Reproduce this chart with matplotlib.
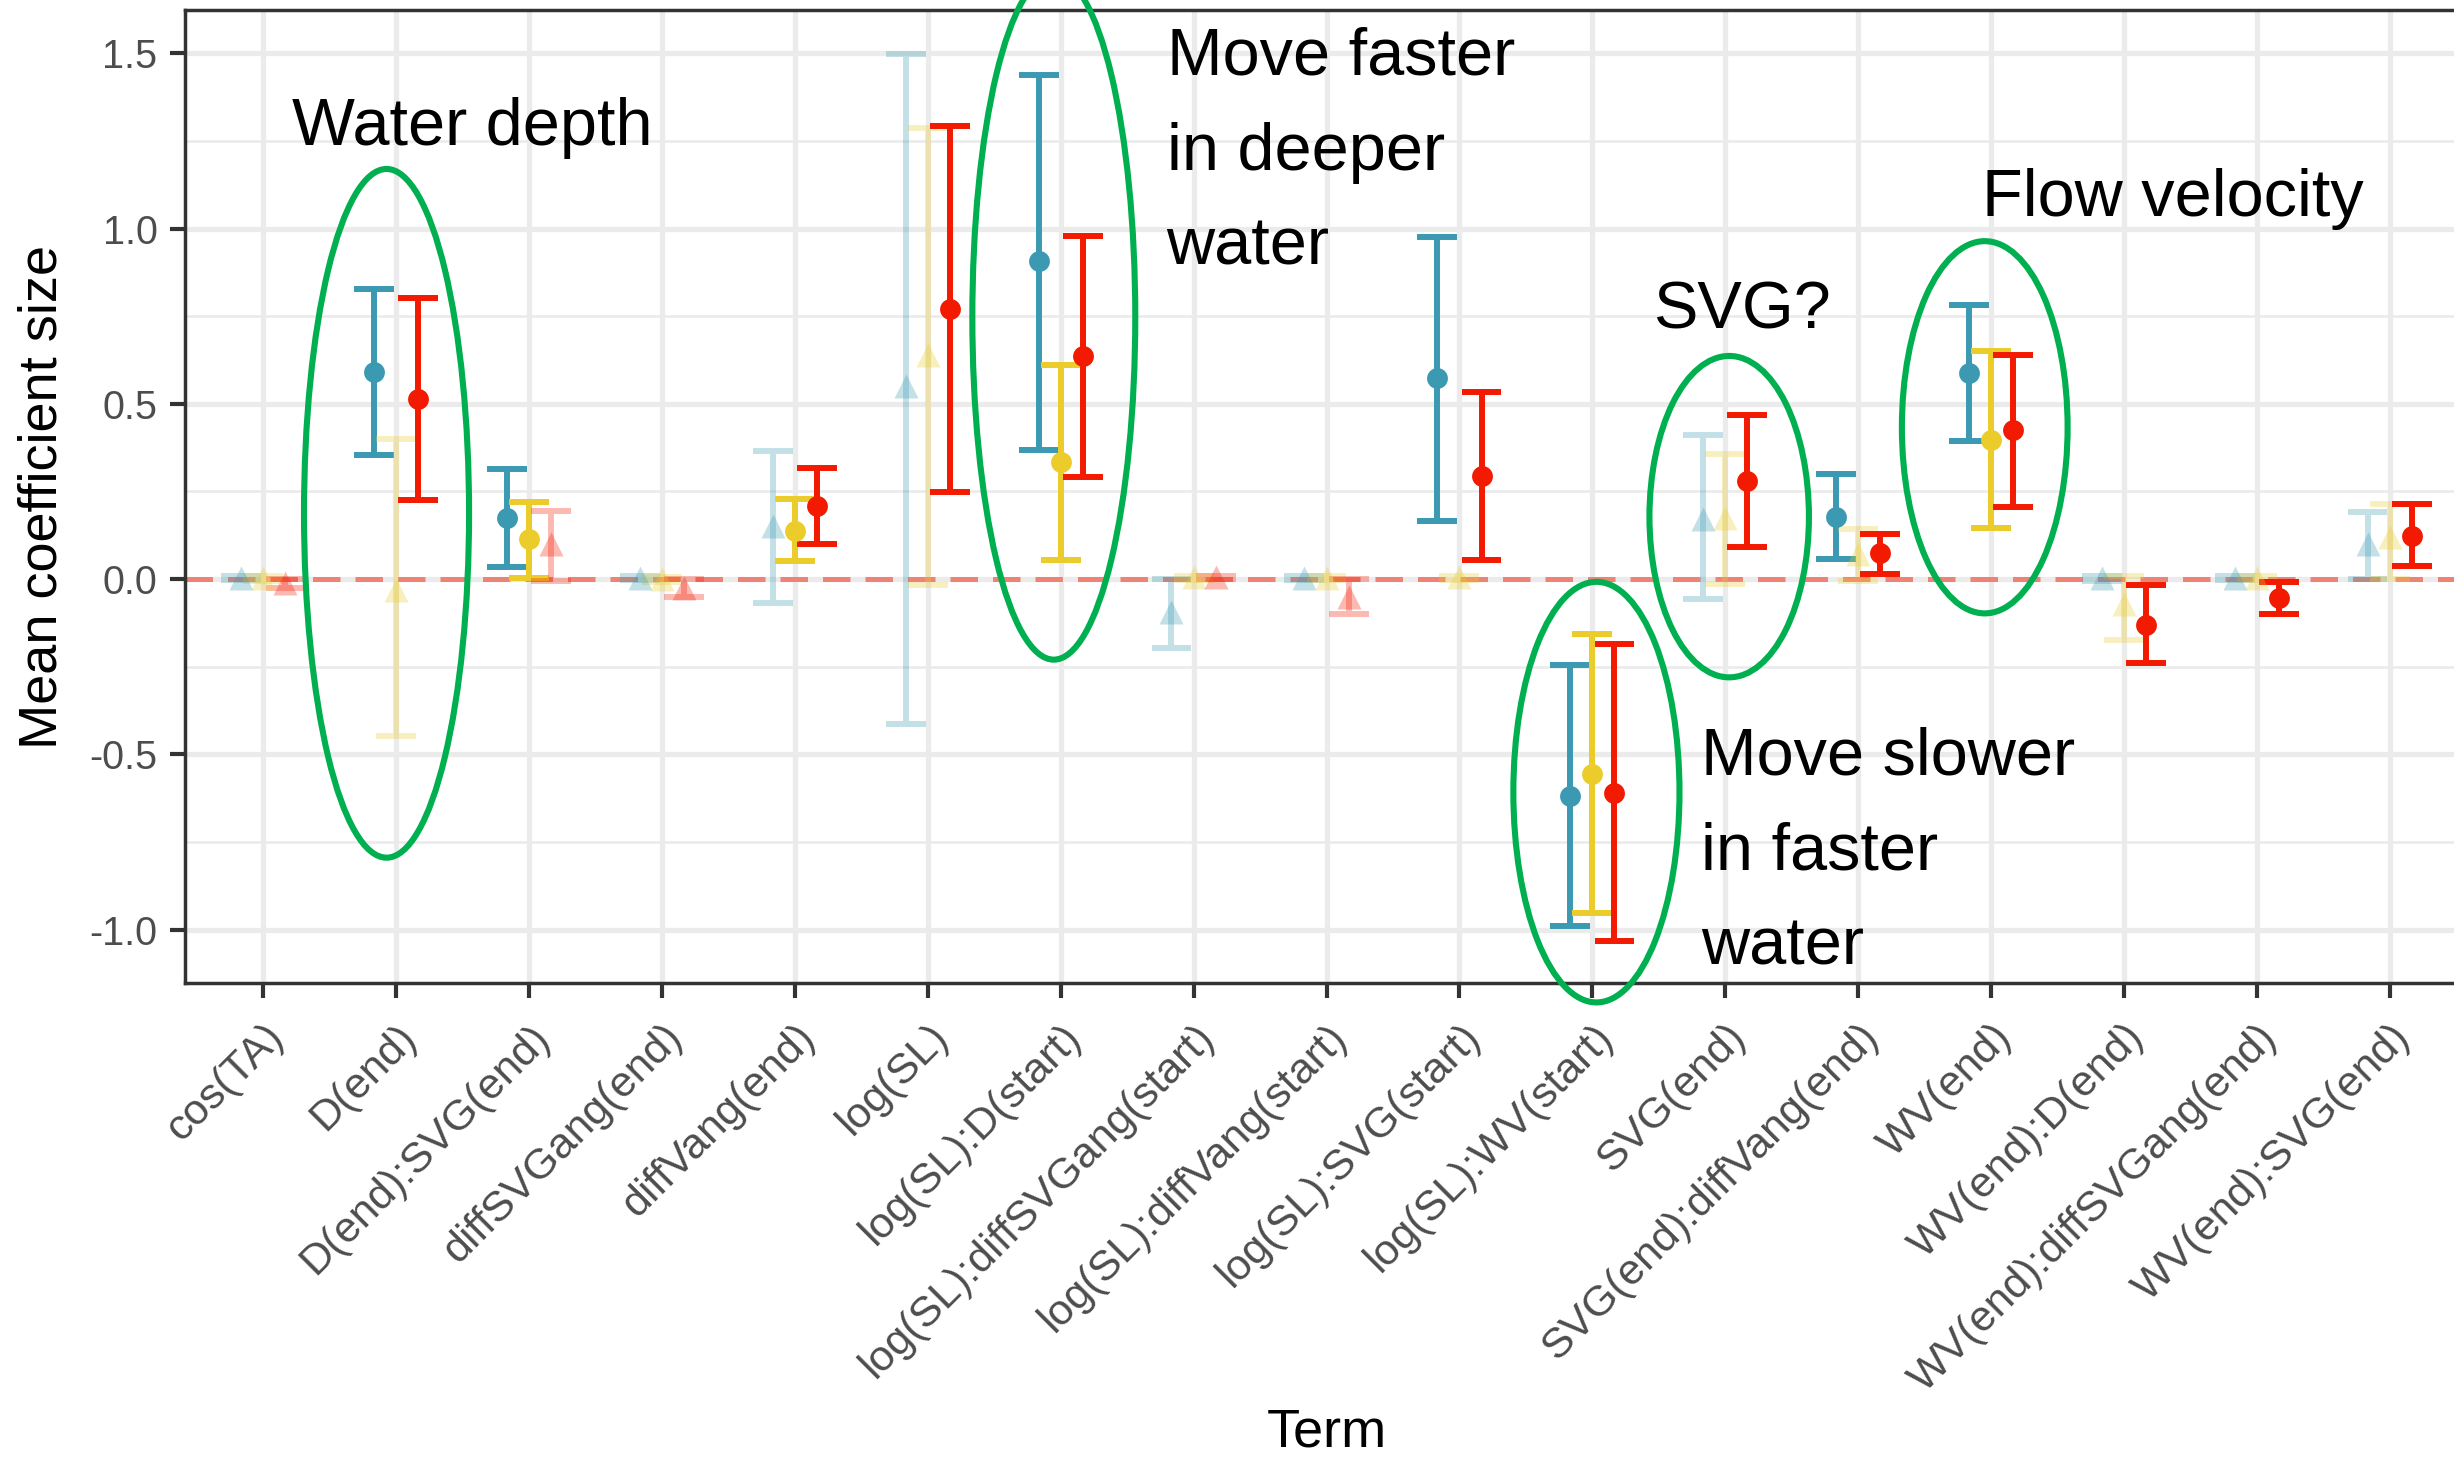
import matplotlib
matplotlib.use("Agg")
import matplotlib.pyplot as plt
from matplotlib.patches import Ellipse
from matplotlib.ticker import FormatStrFormatter, MultipleLocator
import numpy as np

plt.rcParams['font.family'] = ['Liberation Sans', 'DejaVu Sans']
plt.rcParams['axes.unicode_minus'] = False

terms = ["cos(TA)", "D(end)", "D(end):SVG(end)", "diffSVGang(end)", "diffVang(end)",
         "log(SL)", "log(SL):D(start)", "log(SL):diffSVGang(start)",
         "log(SL):diffVang(start)", "log(SL):SVG(start)", "log(SL):WV(start)",
         "SVG(end)", "SVG(end):diffVang(end)", "WV(end)", "WV(end):D(end)",
         "WV(end):diffSVGang(end)", "WV(end):SVG(end)"]

# model 1 (blue)
blue_mean = [0.003, 0.591, 0.175, 0.003, 0.150, 0.550, 0.906, -0.095, 0.002, 0.573,
             -0.619, 0.170, 0.178, 0.588, 0.002, 0.002, 0.100]
blue_lo = [-0.004, 0.355, 0.035, -0.003, -0.067, -0.413, 0.368, -0.197, -0.004, 0.167,
           -0.990, -0.058, 0.056, 0.393, -0.005, -0.004, 0.000]
blue_hi = [0.010, 0.828, 0.313, 0.010, 0.366, 1.499, 1.439, 0.000, 0.008, 0.975,
           -0.246, 0.411, 0.300, 0.782, 0.008, 0.008, 0.191]
blue_sig = [0, 1, 1, 0, 0, 0, 1, 0, 0, 1, 1, 0, 1, 1, 0, 0, 0]

# model 2 (yellow)
yellow_mean = [0.002, -0.030, 0.113, 0.000, 0.138, 0.640, 0.333, 0.005, 0.003, 0.005,
               -0.555, 0.175, 0.070, 0.397, -0.070, 0.003, 0.120]
yellow_lo = [-0.005, -0.449, 0.002, -0.008, 0.051, -0.018, 0.055, -0.003, -0.004, -0.003,
             -0.953, -0.013, -0.007, 0.146, -0.175, -0.003, 0.000]
yellow_hi = [0.008, 0.400, 0.220, 0.005, 0.227, 1.288, 0.610, 0.010, 0.008, 0.010,
             -0.158, 0.357, 0.142, 0.650, 0.010, 0.008, 0.215]
yellow_sig = [0, 0, 1, 0, 1, 0, 1, 0, 0, 0, 1, 0, 0, 1, 0, 0, 0]

# model 3 (red)
red_mean = [-0.010, 0.513, 0.100, -0.025, 0.209, 0.770, 0.635, 0.005, -0.050, 0.295,
            -0.610, 0.280, 0.073, 0.424, -0.131, -0.053, 0.124]
red_lo = [-0.025, 0.226, -0.007, -0.050, 0.100, 0.247, 0.291, 0.000, -0.100, 0.053,
          -1.032, 0.091, 0.015, 0.206, -0.240, -0.100, 0.036]
red_hi = [0.000, 0.802, 0.193, 0.000, 0.318, 1.292, 0.979, 0.010, 0.000, 0.533,
          -0.186, 0.468, 0.129, 0.640, -0.018, -0.009, 0.215]
red_sig = [0, 1, 0, 0, 1, 1, 1, 0, 0, 1, 1, 1, 1, 1, 1, 1, 1]

series = [
    ("#3B9AB2", blue_mean, blue_lo, blue_hi, blue_sig),
    ("#EBCC2A", yellow_mean, yellow_lo, yellow_hi, yellow_sig),
    ("#F21A00", red_mean, red_lo, red_hi, red_sig),
]
offsets = [-1 / 6, 0, 1 / 6]

fig = plt.figure(figsize=(24.54, 14.57), dpi=100)
ax = fig.add_axes([0.0752, 0.3253, 0.9248, 0.6678])

x = np.arange(1, len(terms) + 1)
cap = 0.15

for (col, mean, lo, hi, sig), off in zip(series, offsets):
    for xi, m, l, h, s in zip(x + off, mean, lo, hi, sig):
        a = 1.0 if s else 0.3
        # whisker + caps as one path so alpha doesn't stack
        ax.plot([xi - cap, xi + cap, np.nan, xi, xi, np.nan, xi - cap, xi + cap],
                [h, h, np.nan, l, h, np.nan, l, l],
                color=col, alpha=a, lw=4.3, solid_capstyle='butt', zorder=3)
        if s:
            ax.plot(xi, m, 'o', ms=15, color=col, mec='none', zorder=4)
        else:
            ax.plot(xi, m, '^', ms=17, color=col, alpha=a, mec='none', zorder=4)

ax.axhline(0, color="#F21A00", alpha=0.5, lw=3.6, ls=(0, (5.5, 3)), zorder=2)

# highlighted groups
ellipses = [(1.927, 0.1875, 1.242, 1.965), (6.948, 0.747, 1.226, 1.954),
            (11.031, -0.608, 1.25, 1.20), (12.03, 0.178, 1.20, 0.917),
            (13.953, 0.433, 1.247, 1.062)]
for cx, cy, w, h in ellipses:
    ax.add_patch(Ellipse((cx, cy), w, h, fill=False, ec="#00B050", lw=4.4,
                         clip_on=False, zorder=5))

notes = [(1.213, 1.237, ["Water depth"]),
         (7.796, 1.439, ["Move faster", "in deeper", "water"]),
         (11.455, 0.715, ["SVG?"]),
         (13.93, 1.037, ["Flow velocity"]),
         (11.82, -0.559, ["Move slower", "in faster", "water"])]
for nx, ny, lines in notes:
    for i, line in enumerate(lines):
        ax.text(nx, ny - i * 0.271, line, fontsize=48, color="black",
                ha='left', va='baseline', zorder=6)

ax.set_xlim(0.407, 17.484)
ax.set_ylim(-1.1527, 1.6234)

ax.set_xticks(x)
ax.set_xticklabels(terms, rotation=45, ha='right', va='top', rotation_mode='anchor',
                   fontsize=31, color="#4D4D4D")
ax.yaxis.set_major_locator(MultipleLocator(0.5))
ax.yaxis.set_minor_locator(MultipleLocator(0.25))
ax.yaxis.set_major_formatter(FormatStrFormatter('%.1f'))
ax.tick_params(axis='y', labelsize=28.5, labelcolor="#4D4D4D", pad=9)
ax.tick_params(axis='x', pad=14)
ax.tick_params(which='major', length=10.5, width=3, color="#333333")
ax.tick_params(which='minor', length=0)

ax.grid(which='major', color="#EBEBEB", lw=3.8)
ax.grid(which='minor', axis='y', color="#EBEBEB", lw=1.9)
ax.set_axisbelow(True)

for side in ['left', 'top', 'bottom']:
    ax.spines[side].set_color("#333333")
    ax.spines[side].set_linewidth(2.5)
ax.spines['right'].set_visible(False)

ax.set_xlabel("Term", fontsize=39)
ax.set_ylabel("Mean coefficient size", fontsize=39)
ax.xaxis.set_label_coords((1327 - 184.5) / (2454 - 184.5), -(1432 - 983) / 973)
ax.yaxis.set_label_coords(-(184.5 - 42) / (2454 - 184.5), 0.5)
ax.xaxis.label.set_va('center')
ax.yaxis.label.set_va('center')

fig.savefig("out.png", dpi=100)
